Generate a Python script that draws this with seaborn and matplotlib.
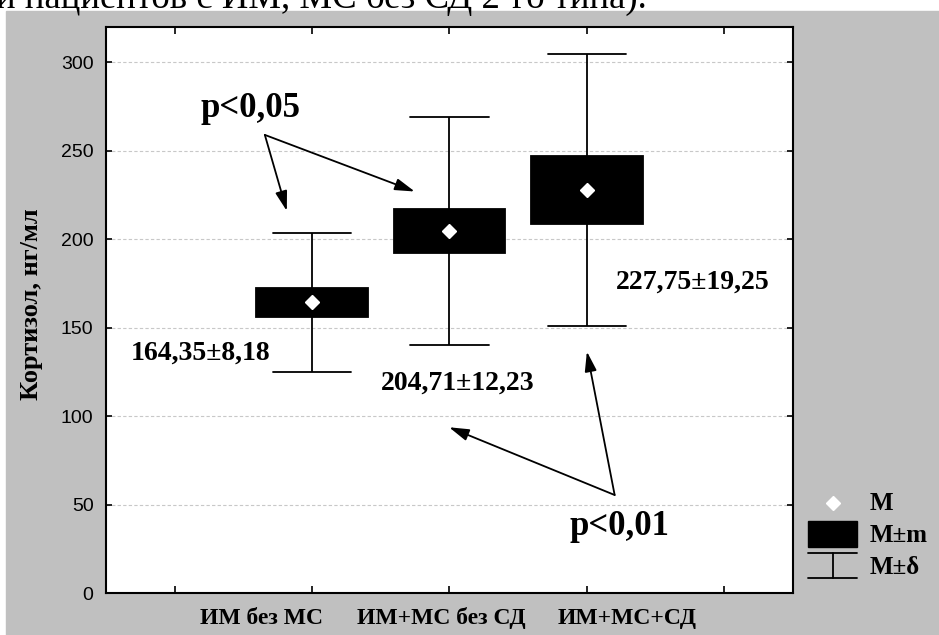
import numpy as np
import pandas as pd
import matplotlib
matplotlib.use("Agg")
import matplotlib.pyplot as plt
import matplotlib.transforms as mtransforms
from matplotlib.patches import Rectangle
from matplotlib.lines import Line2D
import seaborn as sns

# Data: mean (M), standard error (m) and standard deviation (delta)
GROUPS = ["ИМ без МС", "ИМ+МС без СД", "ИМ+МС+СД"]
MEANS = [164.35, 204.71, 227.75]
SEM = [8.18, 12.23, 19.25]
SD = [39.2, 64.5, 76.9]
VALUE_LABELS = ["164,35±8,18", "204,71±12,23", "227,75±19,25"]
Y_TICKS = [0, 50, 100, 150, 200, 250, 300]

SERIF = "Liberation Serif"
SANS = "Liberation Sans"
GRAY = "#c0c0c0"

sns.set_theme(style="white")
plt.rcParams["font.family"] = [SANS, "DejaVu Sans"]
plt.rcParams["text.color"] = "black"
plt.rcParams["axes.labelcolor"] = "black"
plt.rcParams["ytick.color"] = "black"
plt.rcParams["xtick.color"] = "black"

# five points per group -> box = M±m, whiskers = M±delta (whis=(0, 100))
rows = []
for g, m, s, d in zip(GROUPS, MEANS, SEM, SD):
    for v in (m - d, m - s, m, m + s, m + d):
        rows.append((g, v))
df = pd.DataFrame(rows, columns=["group", "value"])
order = [" "] + GROUPS + ["  "]

W, H = 939, 635
fig = plt.figure(figsize=(W / 100, H / 100), dpi=100)
fig.patch.set_facecolor("white")
fig.add_artist(Rectangle((6 / W, 0), 1 - 6 / W, (H - 11) / H,
                         transform=fig.transFigure, color=GRAY, zorder=0))

# cropped line of the surrounding document text
fig.text(-4 / W, 1 - 8 / H, "и пациентов с ИМ, МС без СД 2-го типа).",
         fontsize=26.5, family=SERIF, va="baseline", ha="left")

ax = fig.add_axes([106 / W, (H - 593) / H, 687 / W, 566 / H])
ax.set_facecolor("white")

sns.boxplot(data=df, x="group", y="value", order=order, whis=(0, 100),
            width=0.81, color="black", linecolor="black", linewidth=1.3,
            saturation=1, showfliers=False, showmeans=True,
            meanprops=dict(marker="D", markerfacecolor="white",
                           markeredgecolor="white", markersize=7),
            medianprops=dict(color="black"), ax=ax)

# wider caps than seaborn's default
for cont in ax.containers:
    for cap in getattr(cont, "caps", []):
        x = np.mean(cap.get_xdata())
        cap.set_xdata([x - 0.285, x + 0.285])

ax.set_xlim(-0.5, 4.5)
ax.set_ylim(0, 320)
ax.set_yticks(Y_TICKS)
ax.set_xticks(range(5))
ax.set_xticklabels([])
ax.set_xlabel("")
ax.set_ylabel("")
ax.yaxis.grid(True, linestyle=(0, (3, 2)), color="#c8c8c8", linewidth=0.8)
ax.set_axisbelow(True)
for sp in ax.spines.values():
    sp.set_visible(True)
    sp.set_color("black")
    sp.set_linewidth(1.5)
ax.tick_params(axis="y", which="both", direction="in", length=4, width=1.2,
               color="black", left=True, right=True, labelsize=14, pad=9,
               labelcolor="black")
ax.tick_params(axis="x", which="both", direction="in", length=5, width=1.2,
               color="black", bottom=True, top=True)

# category labels (offset from ticks as in the original)
xtr = mtransforms.blended_transform_factory(ax.transData, ax.transAxes)
for xc, lab in zip([0.635, 1.941, 3.296], GROUPS):
    ax.text(xc, -0.045, lab, transform=xtr, ha="center", va="center",
            fontsize=17, fontweight="bold", family=SERIF, color="black")

ax.text(-0.108, 0.51, "Кортизол, нг/мл", transform=ax.transAxes, rotation=90,
        ha="center", va="center", fontsize=19, fontweight="bold", family=SERIF,
        color="black")

# value labels
for (xv, yv), lab in zip([(0.19, 135.5), (2.06, 118.5), (3.77, 176)], VALUE_LABELS):
    ax.text(xv, yv, lab, ha="center", va="center", fontsize=20,
            fontweight="bold", family=SERIF, color="black")

# significance annotations
arrow = dict(arrowstyle="-|>,head_length=1.0,head_width=0.3", color="black",
             lw=1.3, shrinkA=0, shrinkB=0)
ax.text(0.555, 274, "p<0,05", ha="center", va="center", fontsize=25,
        fontweight="bold", family=SERIF, color="black")
for end in [(0.816, 216), (1.747, 227)]:
    ax.annotate("", xy=end, xytext=(0.656, 259), arrowprops=arrow)
ax.text(3.238, 37.5, "p<0,01", ha="center", va="center", fontsize=25,
        fontweight="bold", family=SERIF, color="black")
for end in [(3.0, 136.5), (1.997, 93.7)]:
    ax.annotate("", xy=end, xytext=(3.202, 55.4), arrowprops=arrow)

# legend drawn in the gray margin
fig.add_artist(Line2D([833 / W], [1 - 503 / H], marker="D", color="white",
                      markersize=7, linestyle="none", transform=fig.transFigure))
fig.add_artist(Rectangle((808 / W, 1 - 547 / H), 49 / W, 26 / H,
                         transform=fig.transFigure, color="black"))
for xs, ys in [([808, 857], [553, 553]), ([808, 857], [578, 578]),
               ([833, 833], [553, 578])]:
    fig.add_artist(Line2D([x / W for x in xs], [1 - y / H for y in ys],
                          color="black", lw=1.3, transform=fig.transFigure))
for yy, lab in [(503, "M"), (535, "M±m"), (567, "M±δ")]:
    fig.text(870 / W, 1 - yy / H, lab, ha="left", va="center", fontsize=18,
             fontweight="bold", family=SERIF, color="black")

fig.savefig("out.png", dpi=100)
